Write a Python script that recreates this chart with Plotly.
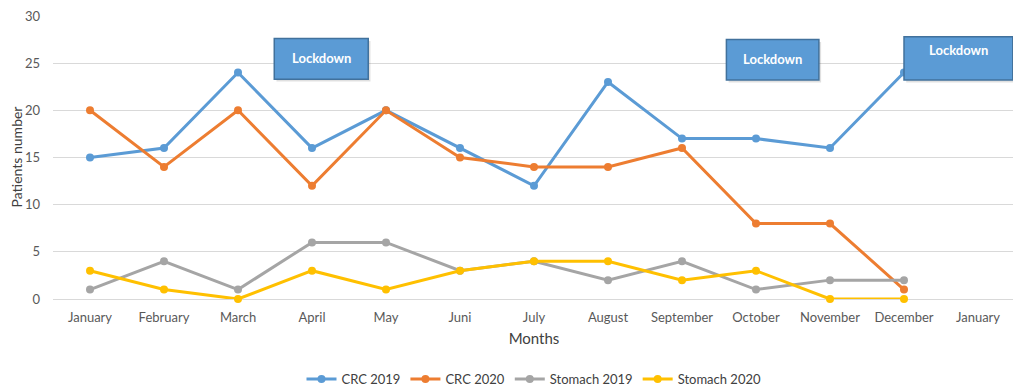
import plotly.graph_objects as go

months = ["January", "February", "March", "April", "May", "Juni", "July",
          "August", "September", "October", "November", "December", "January"]
crc_2019 = [15, 16, 24, 16, 20, 16, 12, 23, 17, 17, 16, 24]
crc_2020 = [20, 14, 20, 12, 20, 15, 14, 14, 16, 8, 8, 1]
stomach_2019 = [1, 4, 1, 6, 6, 3, 4, 2, 4, 1, 2, 2]
stomach_2020 = [3, 1, 0, 3, 1, 3, 4, 4, 2, 3, 0, 0]

series = [
    ("CRC 2019", crc_2019, "#5B9BD5"),
    ("CRC 2020", crc_2020, "#ED7D31"),
    ("Stomach 2019", stomach_2019, "#A5A5A5"),
    ("Stomach 2020", stomach_2020, "#FFC000"),
]

FONT = "Lato, Open Sans, sans-serif"
fig = go.Figure()
for name, vals, col in series:
    fig.add_trace(go.Scatter(
        x=list(range(len(vals))), y=vals, name=name, mode="lines+markers",
        line=dict(color=col, width=3), marker=dict(color=col, size=8),
        cliponaxis=False))

# Lockdown boxes (data coords): x0, x1, y0, y1, text y
boxes = [
    (2.49, 3.76, 23.3, 27.6, 25.5),
    (8.6, 9.85, 23.2, 27.5, 25.4),
    (11.0, 12.47, 23.2, 27.8, 26.4),
]
for x0, x1, y0, y1, ty in boxes:
    fig.add_shape(type="rect", xref="x", yref="y", x0=x0 + 0.03, x1=x1 + 0.03,
                  y0=y0 - 0.25, y1=y1 - 0.25, fillcolor="rgba(0,0,0,0.12)",
                  line=dict(width=0), layer="above")
    fig.add_shape(type="rect", xref="x", yref="y", x0=x0, x1=x1, y0=y0, y1=y1,
                  fillcolor="#5B9BD5", line=dict(color="#41719C", width=1.5),
                  layer="above")
    fig.add_annotation(x=(x0 + x1) / 2, y=ty, xref="x", yref="y",
                       text="<b>Lockdown</b>", showarrow=False,
                       font=dict(color="white", size=13, family=FONT))

fig.update_layout(
    width=1013, height=384,
    margin=dict(l=45, r=6, t=7, b=93, autoexpand=False),
    paper_bgcolor="white", plot_bgcolor="white",
    font=dict(family=FONT, size=13, color="#595959"),
    showlegend=True,
    legend=dict(orientation="h", x=0.5, xanchor="center", y=0.034,
                yref="container", yanchor="middle",
                font=dict(size=13, color="#404040")),
    xaxis=dict(range=[-0.5, 12.5], tickvals=list(range(len(months))),
               ticktext=months, showgrid=False, zeroline=False,
               showline=False, ticks="", automargin=False,
               ticklabelstandoff=9,
               title=dict(text="Months", font=dict(size=15, color="#404040"),
                          standoff=9)),
    yaxis=dict(range=[0, 30.1], tickvals=[0, 5, 10, 15, 20, 25, 30],
               showgrid=True, gridcolor="#D9D9D9",
               gridwidth=1.3, zeroline=True, zerolinecolor="#D9D9D9",
               zerolinewidth=1.3, showline=False, ticks="", automargin=False,
               ticklabelstandoff=12, ticklabeloverflow="allow",
               title=dict(text="Patients number",
                          font=dict(size=14, color="#404040"), standoff=2)),
)

fig.write_html("out.html")
